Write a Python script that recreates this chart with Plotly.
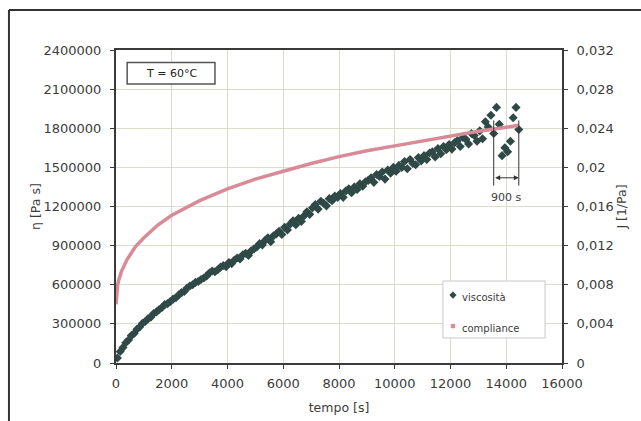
import plotly.graph_objects as go

# ---- data -------------------------------------------------------------
# viscosity samples: one reading every 100 s, values in kPa·s
t_visc = list(range(50, 14451, 100))
eta_kpa = [
    38, 88, 118, 155, 176, 210, 226, 258, 276, 305,
    318, 340, 352, 380, 392, 410, 425, 448, 455, 472,
    490, 500, 522, 540, 548, 575, 590, 600, 618, 625,
    640, 652, 668, 690, 705, 700, 715, 735, 748, 738,
    770, 762, 790, 805, 798, 830, 842, 825, 860, 875,
    890, 915, 905, 940, 960, 930, 975, 990, 1010, 985,
    1040, 1020, 1065, 1090, 1060, 1110, 1085, 1130, 1160, 1140,
    1190, 1215, 1180, 1240, 1225, 1205, 1260, 1245, 1280, 1270,
    1300, 1270, 1320, 1335, 1305, 1350, 1330, 1375, 1355, 1390,
    1400, 1420, 1385, 1445, 1430, 1465, 1410, 1480, 1455, 1500,
    1470, 1515, 1500, 1545, 1490, 1560, 1530, 1520, 1575, 1550,
    1590, 1560, 1610, 1620, 1580, 1645, 1605, 1660, 1635, 1675,
    1640, 1690, 1705, 1660, 1730, 1715, 1680, 1760, 1745, 1700,
    1780, 1720, 1850, 1810, 1900, 1760, 1960, 1830, 1590, 1650,
    1620, 1700, 1880, 1960, 1790,
]
eta = [v * 1000 for v in eta_kpa]

# creep compliance curve
t_comp = [0, 20, 60, 100, 200, 400, 700, 1000, 1500, 2000, 3000, 4000, 5000,
          6000, 7000, 8000, 9000, 10000, 11000, 12000, 13000, 14000, 14450]
J = [0.0060, 0.0072, 0.0080, 0.0085, 0.0094, 0.0106, 0.0119, 0.0128, 0.0141,
     0.0151, 0.0166, 0.0178, 0.0188, 0.0196, 0.0204, 0.0211, 0.0217, 0.0222,
     0.0227, 0.0232, 0.0237, 0.0241, 0.0243]

x_ticks = [0, 2000, 4000, 6000, 8000, 10000, 12000, 14000, 16000]
eta_ticks = [0, 300000, 600000, 900000, 1200000, 1500000, 1800000, 2100000, 2400000]
eta_labels = ["0", "300000", "600000", "900000", "1200000", "1500000",
              "1800000", "2100000", "2400000"]
J_ticks = [0, 0.004, 0.008, 0.012, 0.016, 0.02, 0.024, 0.028, 0.032]
J_labels = ["0", "0,004", "0,008", "0,012", "0,016", "0,02", "0,024", "0,028", "0,032"]

series_names = ["viscosità", "compliance"]

interval_start, interval_end = 13550, 14450   # 900 s window

# ---- styling ----------------------------------------------------------
FONT = "DejaVu Sans"
DARK = "#2f4a46"
PINK = "#d88a96"
GRID = "#dcdccb"
AXIS = "#3a3a3a"
TXT = "#3c3c3c"

fig = go.Figure()

fig.add_trace(go.Scatter(
    x=t_comp, y=J, yaxis="y2", mode="lines", name=series_names[1],
    line=dict(color=PINK, width=3.5), showlegend=False,
))
fig.add_trace(go.Scatter(
    x=t_visc, y=eta, mode="markers", name=series_names[0],
    marker=dict(symbol="diamond", size=7, color=DARK), showlegend=False,
))

# legend box drawn in paper coordinates
LX0, LX1, LY0, LY1 = 0.733, 0.962, 0.080, 0.262
MX = 0.7555                 # marker column
TX = 0.772                  # text column
ROW1, ROW2 = 0.217, 0.118   # entry rows
dx, dy = 3.6 / 446, 3.6 / 313

shapes = [
    # outer frame
    dict(type="line", xref="paper", yref="paper", x0=-0.24, x1=1.4,
         y0=1.128, y1=1.128, line=dict(color="#333", width=2)),
    dict(type="line", xref="paper", yref="paper", x0=-0.24, x1=-0.24,
         y0=1.128, y1=-0.3, line=dict(color="#333", width=2)),
    # temperature label box
    dict(type="rect", xref="x", yref="y", x0=400, x1=3550,
         y0=2140000, y1=2305000, fillcolor="white",
         line=dict(color="#555", width=1.5), layer="above"),
    # 900 s window
    dict(type="line", xref="x", yref="y", x0=interval_start, x1=interval_start,
         y0=1360000, y1=1860000, line=dict(color="#333", width=1)),
    dict(type="line", xref="x", yref="y", x0=interval_end, x1=interval_end,
         y0=1360000, y1=1860000, line=dict(color="#333", width=1)),
    # legend
    dict(type="rect", xref="paper", yref="paper", x0=LX0, x1=LX1, y0=LY0, y1=LY1,
         fillcolor="white", line=dict(color="#c8c8c8", width=1), layer="above"),
    dict(type="path", xref="paper", yref="paper",
         path=f"M {MX - dx} {ROW1} L {MX} {ROW1 + dy} L {MX + dx} {ROW1} "
              f"L {MX} {ROW1 - dy} Z",
         fillcolor=DARK, line=dict(width=0), layer="above"),
    dict(type="rect", xref="paper", yref="paper",
         x0=MX - 0.6 * dx, x1=MX + 0.6 * dx, y0=ROW2 - 0.6 * dy, y1=ROW2 + 0.6 * dy,
         fillcolor=PINK, line=dict(width=0), layer="above"),
]

annotations = [
    dict(x=interval_end, y=1420000, ax=interval_start, ay=1420000,
         xref="x", yref="y", axref="x", ayref="y", text="",
         showarrow=True, arrowhead=2, arrowside="end+start",
         arrowsize=1, arrowwidth=1, arrowcolor="#333"),
    dict(x=(interval_start + interval_end) / 2, y=1270000, xref="x", yref="y",
         text="900 s", showarrow=False, font=dict(family=FONT, size=11, color=TXT)),
    dict(x=1975, y=2222000, xref="x", yref="y", text="T = 60°C",
         showarrow=False, font=dict(family=FONT, size=11, color="#222")),
    dict(x=TX, y=ROW1, xref="paper", yref="paper", text=series_names[0],
         xanchor="left", yanchor="middle", yshift=-2, showarrow=False,
         font=dict(family=FONT, size=10, color=TXT)),
    dict(x=TX, y=ROW2, xref="paper", yref="paper", text=series_names[1],
         xanchor="left", yanchor="middle", yshift=-2, showarrow=False,
         font=dict(family=FONT, size=10, color=TXT)),
]

axis_common = dict(
    showline=True, linecolor=AXIS, linewidth=2,
    ticks="outside", ticklen=4, tickcolor=AXIS, zeroline=False, automargin=False,
)

fig.update_layout(
    width=641, height=421,
    margin=dict(l=116, r=79, t=50, b=58),
    paper_bgcolor="white", plot_bgcolor="white",
    font=dict(family=FONT, size=13, color=TXT),
    shapes=shapes, annotations=annotations,
    showlegend=False,
    xaxis=dict(
        range=[0, 16000], tickvals=x_ticks, ticktext=[str(v) for v in x_ticks],
        showgrid=True, gridcolor=GRID, gridwidth=1, mirror=True,
        ticklabelstandoff=3,
        title=dict(text="tempo [s]", standoff=14, font=dict(family=FONT, size=12.5)),
        **axis_common,
    ),
    yaxis=dict(
        range=[0, 2400000], tickvals=eta_ticks, ticktext=eta_labels,
        showgrid=True, gridcolor=GRID, gridwidth=1, mirror=True,
        ticklabelstandoff=6,
        title=dict(text="η [Pa s]", standoff=0, font=dict(family=FONT, size=12.5)),
        **axis_common,
    ),
    yaxis2=dict(
        range=[0, 0.032], tickvals=J_ticks, ticktext=J_labels,
        overlaying="y", side="right", showgrid=False,
        ticklabelstandoff=6,
        title=dict(text="J [1/Pa]", standoff=0, font=dict(family=FONT, size=12.5)),
        **axis_common,
    ),
)

fig.write_html("out.html")
